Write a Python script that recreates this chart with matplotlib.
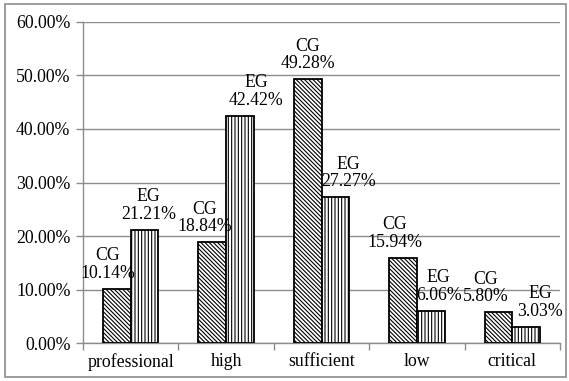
import matplotlib
matplotlib.use("Agg")
import matplotlib.pyplot as plt
from matplotlib.patches import Rectangle
from matplotlib.ticker import FuncFormatter, MultipleLocator
import numpy as np

categories = ["professional", "high", "sufficient", "low", "critical"]
series_names = ["CG", "EG"]
cg_values = [10.14, 18.84, 49.28, 15.94, 5.80]
eg_values = [21.21, 42.42, 27.27, 6.06, 3.03]

# label horizontal nudges (pixels), style only
cg_dx = [-9, -8, 0, -8, -13]
eg_dx = [4, 16, 13, 8, 14]

plt.rcParams['font.family'] = ['Liberation Serif', 'DejaVu Serif']
plt.rcParams['hatch.linewidth'] = 0.8

fig = plt.figure(figsize=(5.69, 3.81), dpi=100)
ax = fig.add_axes([83/569, 1-343.3/381, (560-83)/569, (343.3-21.7)/381])

fig.patches.append(Rectangle((5/569, 4/381), 561/569, 373/381, transform=fig.transFigure,
                             fill=False, edgecolor='#8c8c8c', linewidth=1.2))

x = np.arange(len(categories))
w = 0.29
b1 = ax.bar(x - w/2, cg_values, width=w, facecolor='white', edgecolor='black',
            hatch='\\' * 8, linewidth=1.3, zorder=3)
b2 = ax.bar(x + w/2, eg_values, width=w, facecolor='white', edgecolor='black',
            hatch='|' * 5, linewidth=1.3, zorder=3)

fs = 12.8
for i in range(len(categories)):
    ax.annotate(f"{series_names[0]}\n{cg_values[i]:.2f}%", (x[i] - w/2, cg_values[i]),
                xytext=(cg_dx[i]*0.72, 5), textcoords='offset points',
                ha='center', va='bottom', fontsize=fs, linespacing=1.05, zorder=4)
    ax.annotate(f"{series_names[1]}\n{eg_values[i]:.2f}%", (x[i] + w/2, eg_values[i]),
                xytext=(eg_dx[i]*0.72, 5), textcoords='offset points',
                ha='center', va='bottom', fontsize=fs, linespacing=1.05, zorder=4)

ax.set_xlim(-0.5, len(categories) - 0.5)
ax.set_ylim(0, 60)
ax.yaxis.set_major_locator(MultipleLocator(10))
ax.yaxis.set_major_formatter(FuncFormatter(lambda v, p: f"{v:.2f}%"))
ax.yaxis.grid(True, color='#8c8c8c', linewidth=1.0, zorder=0)
ax.set_axisbelow(True)

ax.set_xticks(x)
ax.set_xticklabels(categories, fontsize=fs)
ax.set_xticks(np.arange(len(categories) + 1) - 0.5, minor=True)
ax.tick_params(axis='x', which='major', length=0, pad=7)
ax.tick_params(axis='x', which='minor', length=5, color='#8c8c8c', width=1)
ax.tick_params(axis='y', length=5, color='#8c8c8c', width=1, labelsize=fs, pad=4)

for s in ['top', 'right']:
    ax.spines[s].set_visible(False)
for s in ['left', 'bottom']:
    ax.spines[s].set_color('#8c8c8c')
    ax.spines[s].set_linewidth(1.0)

fig.savefig("out.png", dpi=100)
